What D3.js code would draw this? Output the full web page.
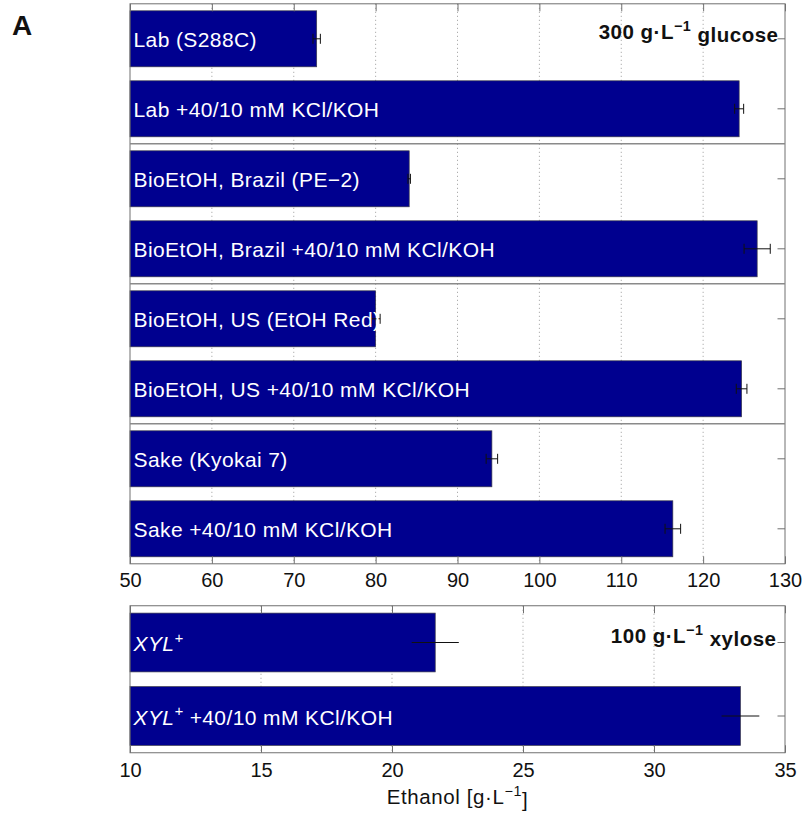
<!DOCTYPE html>
<html>
<head>
<meta charset="utf-8">
<script src="https://cdn.jsdelivr.net/npm/d3@7"></script>
<style>
  html, body { margin: 0; padding: 0; background: #fff; }
  svg { display: block; font-family: "Liberation Sans", Arial, Helvetica, sans-serif; }
</style>
</head>
<body>
<svg id="chart" width="807" height="813"></svg>
<script>
// Strains fermented on 300 g/L glucose, with and without extra KCl/KOH
const glucoseStrains = [
  "Lab (S288C)",
  "Lab +40/10 mM KCl/KOH",
  "BioEtOH, Brazil (PE\u22122)",
  "BioEtOH, Brazil +40/10 mM KCl/KOH",
  "BioEtOH, US (EtOH Red)",
  "BioEtOH, US +40/10 mM KCl/KOH",
  "Sake (Kyokai 7)",
  "Sake +40/10 mM KCl/KOH"
];
// Final ethanol titres (g/L) and their errors
const glucoseEthanol = [72.8, 124.4, 84.1, 126.6, 80.0, 124.7, 94.2, 116.3];
const glucoseError   = [0.45, 0.55, 0.15, 1.6, 0.55, 0.65, 0.7, 0.95];
const glucoseTicks   = [50, 60, 70, 80, 90, 100, 110, 120, 130];

// Xylose-fermenting strain on 100 g/L xylose
const xyloseStrains = ["XYL+", "XYL+ +40/10 mM KCl/KOH"];
const xyloseEthanol = [21.65, 33.3];
const xyloseError   = [0.9, 0.72];
const xyloseTicks   = [10, 15, 20, 25, 30, 35];

const svg = d3.select("#chart");
const left = 130, right = 785;
const barFill = "#00008f";
const frameColor = "#707070";

// Adds "g·L⁻¹"-style text pieces with a raised exponent
function unitText(sel, before, after) {
  sel.append("tspan").text(before + "g\u00b7L");
  sel.append("tspan").attr("font-size", "0.7em").attr("dy", "-0.55em").text("\u22121");
  sel.append("tspan").attr("dy", "0.55em").text(after);
}

function drawPanel(opts) {
  const { names, values, errors, ticks, top, bottom, caps } = opts;
  const g = svg.append("g");

  const x = d3.scaleLinear().domain([ticks[0], ticks[ticks.length - 1]]).range([left, right]);
  const y = d3.scaleBand().domain(names).range([top, bottom])
    .paddingInner(0.2).paddingOuter(0.1);

  // dotted vertical grid
  g.append("g").selectAll("line")
    .data(ticks.slice(1, -1))
    .join("line")
    .attr("x1", d => x(d)).attr("x2", d => x(d))
    .attr("y1", top).attr("y2", bottom)
    .attr("stroke", "#9a9a9a").attr("stroke-width", 1)
    .attr("stroke-dasharray", "1,3");

  // bars
  g.append("g").selectAll("rect")
    .data(values)
    .join("rect")
    .attr("x", x(ticks[0]))
    .attr("y", (d, i) => y(names[i]))
    .attr("width", d => x(d) - x(ticks[0]))
    .attr("height", y.bandwidth())
    .attr("fill", barFill)
    .attr("stroke", "#3a3a4a").attr("stroke-width", 0.7);

  // error bars
  const eb = g.append("g").attr("stroke", "#111").attr("stroke-width", 1);
  values.forEach((v, i) => {
    const cy = y(names[i]) + y.bandwidth() / 2;
    eb.append("line")
      .attr("x1", x(v - errors[i])).attr("x2", x(v + errors[i]))
      .attr("y1", cy).attr("y2", cy);
    if (caps) {
      [v - errors[i], v + errors[i]].forEach(e => {
        eb.append("line")
          .attr("x1", x(e)).attr("x2", x(e))
          .attr("y1", cy - 5).attr("y2", cy + 5);
      });
    }
  });

  // axes: bottom with labels, top and right with inward ticks only
  const tickLen = 7.5;
  const axisB = g.append("g").attr("transform", `translate(0,${bottom})`)
    .call(d3.axisBottom(x).tickValues(ticks).tickSizeInner(-tickLen).tickSizeOuter(0)
      .tickPadding(opts.labelPad).tickFormat(d3.format("d")));
  const axisT = g.append("g").attr("transform", `translate(0,${top})`)
    .call(d3.axisTop(x).tickValues(ticks).tickSizeInner(-tickLen).tickSizeOuter(0).tickFormat(""));
  const axisR = g.append("g").attr("transform", `translate(${right},0)`)
    .call(d3.axisRight(y).tickSizeInner(-tickLen).tickSizeOuter(0).tickFormat(""));
  [axisB, axisT, axisR].forEach(a => {
    a.select(".domain").remove();
    a.selectAll(".tick line").attr("stroke", frameColor);
  });
  axisB.selectAll(".tick text")
    .attr("fill", "#111").attr("font-size", 20)
    .attr("font-family", "\"Liberation Sans\", Arial, Helvetica, sans-serif");

  // frame
  g.append("rect")
    .attr("x", left).attr("y", top)
    .attr("width", right - left).attr("height", bottom - top)
    .attr("fill", "none").attr("stroke", frameColor).attr("stroke-width", 1);

  return { g, x, y };
}

// ---- glucose panel ----
const p1 = drawPanel({
  names: glucoseStrains, values: glucoseEthanol, errors: glucoseError,
  ticks: glucoseTicks, top: 3.8, bottom: 563.8, caps: true, labelPad: 9.5
});

// separators between strain pairs
p1.g.append("g").selectAll("line")
  .data([2, 4, 6])
  .join("line")
  .attr("x1", left).attr("x2", right)
  .attr("y1", i => p1.y(glucoseStrains[i]) - p1.y.step() * p1.y.paddingInner() / 2)
  .attr("y2", i => p1.y(glucoseStrains[i]) - p1.y.step() * p1.y.paddingInner() / 2)
  .attr("stroke", "#8a8a8a").attr("stroke-width", 1.6);

p1.g.append("g").selectAll("text")
  .data(glucoseStrains)
  .join("text")
  .attr("x", 133.5)
  .attr("y", d => p1.y(d) + p1.y.bandwidth() / 2 + 8.5)
  .attr("fill", "#fff").attr("font-size", 21).attr("letter-spacing", 0.4)
  .text(d => d);

const t1 = p1.g.append("text")
  .attr("x", 778.5).attr("y", 39)
  .attr("text-anchor", "end").attr("font-weight", "bold")
  .attr("font-size", 20.5).attr("letter-spacing", 0.5).attr("fill", "#111");
unitText(t1, "300 ", " glucose");

// ---- xylose panel ----
const p2 = drawPanel({
  names: xyloseStrains, values: xyloseEthanol, errors: xyloseError,
  ticks: xyloseTicks, top: 605.75, bottom: 752.75, caps: false, labelPad: 10.5
});

p2.g.append("g").selectAll("text")
  .data(xyloseStrains)
  .join("text")
  .attr("x", 133.5)
  .attr("y", d => p2.y(d) + p2.y.bandwidth() / 2 + 8.5)
  .attr("fill", "#fff").attr("font-size", 21).attr("letter-spacing", 0.4)
  .each(function (d) {
    const t = d3.select(this);
    t.append("tspan").attr("font-style", "italic").text("XYL");
    t.append("tspan").attr("font-style", "italic").attr("font-size", "0.7em")
      .attr("dy", "-0.55em").text("+");
    t.append("tspan").attr("dy", "0.385em").text(d.slice(4));
  });

const t2 = p2.g.append("text")
  .attr("x", 776.5).attr("y", 642.5)
  .attr("text-anchor", "end").attr("font-weight", "bold")
  .attr("font-size", 20.5).attr("letter-spacing", 0.5).attr("fill", "#111");
unitText(t2, "100 ", " xylose");

// x-axis title
const xt = svg.append("text")
  .attr("x", (left + right) / 2).attr("y", 804)
  .attr("text-anchor", "middle").attr("font-size", 20.5)
  .attr("letter-spacing", 0.6).attr("fill", "#111");
xt.append("tspan").text("Ethanol [g\u00b7L");
xt.append("tspan").attr("font-size", "0.7em").attr("dy", "-0.55em").text("\u22121");
xt.append("tspan").attr("dy", "0.55em").text("]");

// panel letter
svg.append("text")
  .attr("x", 12).attr("y", 35)
  .attr("font-size", 28).attr("font-weight", "bold").attr("fill", "#111")
  .text("A");
</script>
</body>
</html>
